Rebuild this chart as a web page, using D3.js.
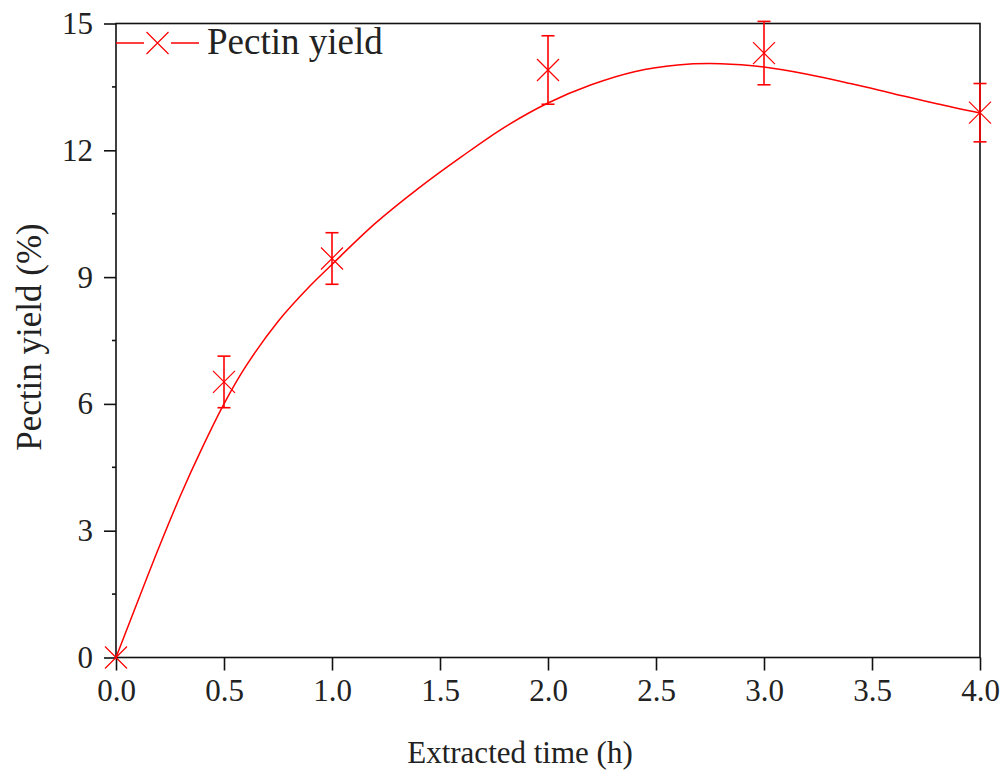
<!DOCTYPE html>
<html>
<head>
<meta charset="utf-8">
<script src="https://cdn.jsdelivr.net/npm/d3@7"></script>
<style>
  body { margin: 0; background: #fff; }
  text { font-family: "Liberation Serif", "DejaVu Serif", serif; fill: #222; }
</style>
</head>
<body>
<div id="chart"></div>
<script>
// measured points (h, %)
let times = [0, 0.5, 1, 2, 3, 4]
let yields = [0, 6.52, 9.44, 13.9, 14.3, 12.89]
let errors = [0, 0.61, 0.61, 0.81, 0.75, 0.69]

// fitted curve
let fitTimes = [0, 0.1, 0.2, 0.3, 0.4, 0.5, 0.6, 0.75, 0.9, 1.0, 1.2, 1.4, 1.6, 1.8, 2.0, 2.2, 2.4, 2.6, 2.8, 3.0, 3.2, 3.4, 3.6, 3.8, 4.0]
let fitYields = [0, 1.32, 2.62, 3.85, 4.97, 6.0, 6.88, 7.95, 8.8, 9.3, 10.27, 11.1, 11.85, 12.55, 13.12, 13.55, 13.86, 14.02, 14.05, 13.97, 13.8, 13.58, 13.34, 13.1, 12.88]

let xTicks = [0, 0.5, 1, 1.5, 2, 2.5, 3, 3.5, 4]
let yTicks = [0, 3, 6, 9, 12, 15]
let yMinor = [1.5, 4.5, 7.5, 10.5, 13.5]

let width = 1007,
  height = 779
let pLeft = 116, pRight = 980, pTop = 23.5, pBottom = 657.5
let red = '#ff0000'

let svg = d3.select('#chart')
  .append('svg')
  .attr('width', width)
  .attr('height', height)

let x = d3.scaleLinear().domain([0, 4]).range([pLeft, pRight])
let y = d3.scaleLinear().domain([0, 15]).range([pBottom, pTop])

// frame
svg.append('rect')
  .attr('x', pLeft).attr('y', pTop)
  .attr('width', pRight - pLeft).attr('height', pBottom - pTop)
  .attr('fill', 'none').attr('stroke', '#111').attr('stroke-width', 1.6)

// bottom axis
let xAxis = svg.append('g')
  .attr('transform', `translate(0,${pBottom})`)
  .call(d3.axisBottom(x).tickValues(xTicks).tickFormat(d3.format('.1f')).tickSize(13).tickPadding(8))
xAxis.select('.domain').remove()
xAxis.selectAll('line').attr('stroke', '#111').attr('stroke-width', 1.6)
xAxis.selectAll('text').attr('font-size', 31).attr('fill', '#222')

// left axis
let yAxis = svg.append('g')
  .attr('transform', `translate(${pLeft},0)`)
  .call(d3.axisLeft(y).tickValues(yTicks).tickSize(12).tickPadding(11))
yAxis.select('.domain').remove()
yAxis.selectAll('line').attr('stroke', '#111').attr('stroke-width', 1.6)
yAxis.selectAll('text').attr('font-size', 31).attr('fill', '#222')

svg.append('g').selectAll('line')
  .data(yMinor)
  .enter().append('line')
  .attr('x1', pLeft - 4).attr('x2', pLeft)
  .attr('y1', d => y(d)).attr('y2', d => y(d))
  .attr('stroke', '#111').attr('stroke-width', 1.6)

// titles
svg.append('text')
  .attr('x', 520).attr('y', 763)
  .attr('text-anchor', 'middle')
  .attr('font-size', 31)
  .text('Extracted time (h)')

svg.append('text')
  .attr('transform', 'translate(41,337) rotate(-90)')
  .attr('text-anchor', 'middle')
  .attr('font-size', 35)
  .text('Pectin yield (%)')

// fitted curve
let fit = fitTimes.map((t, i) => [t, fitYields[i]])
svg.append('path')
  .datum(fit)
  .attr('fill', 'none')
  .attr('stroke', red)
  .attr('stroke-width', 1.5)
  .attr('d', d3.line().x(d => x(d[0])).y(d => y(d[1])).curve(d3.curveCatmullRom.alpha(0.5)))

// error bars
let pts = times.map((t, i) => ({ t: t, v: yields[i], e: errors[i] }))
let eb = svg.append('g').attr('stroke', red).attr('stroke-width', 1.6)
pts.filter(d => d.e > 0).forEach(d => {
  eb.append('line')
    .attr('x1', x(d.t)).attr('x2', x(d.t))
    .attr('y1', y(d.v - d.e)).attr('y2', y(d.v + d.e))
  ;[d.v - d.e, d.v + d.e].forEach(v => {
    eb.append('line')
      .attr('x1', x(d.t) - 6.5).attr('x2', x(d.t) + 6.5)
      .attr('y1', y(v)).attr('y2', y(v))
  })
})

// X markers
function cross(g, cx, cy, s) {
  g.append('path')
    .attr('d', `M${cx - s},${cy - s}L${cx + s},${cy + s}M${cx - s},${cy + s}L${cx + s},${cy - s}`)
    .attr('stroke', red).attr('stroke-width', 1.2).attr('fill', 'none')
}
let mk = svg.append('g')
pts.forEach(d => cross(mk, x(d.t), y(d.v), 11))

// legend
let lg = svg.append('g')
lg.append('line').attr('x1', pLeft).attr('x2', 144).attr('y1', 43).attr('y2', 43)
  .attr('stroke', red).attr('stroke-width', 1.5)
lg.append('line').attr('x1', 171).attr('x2', 199).attr('y1', 43).attr('y2', 43)
  .attr('stroke', red).attr('stroke-width', 1.5)
cross(lg, 157.5, 43, 11)
lg.append('text')
  .attr('x', 207).attr('y', 54)
  .attr('font-size', 37)
  .text('Pectin yield')
</script>
</body>
</html>
